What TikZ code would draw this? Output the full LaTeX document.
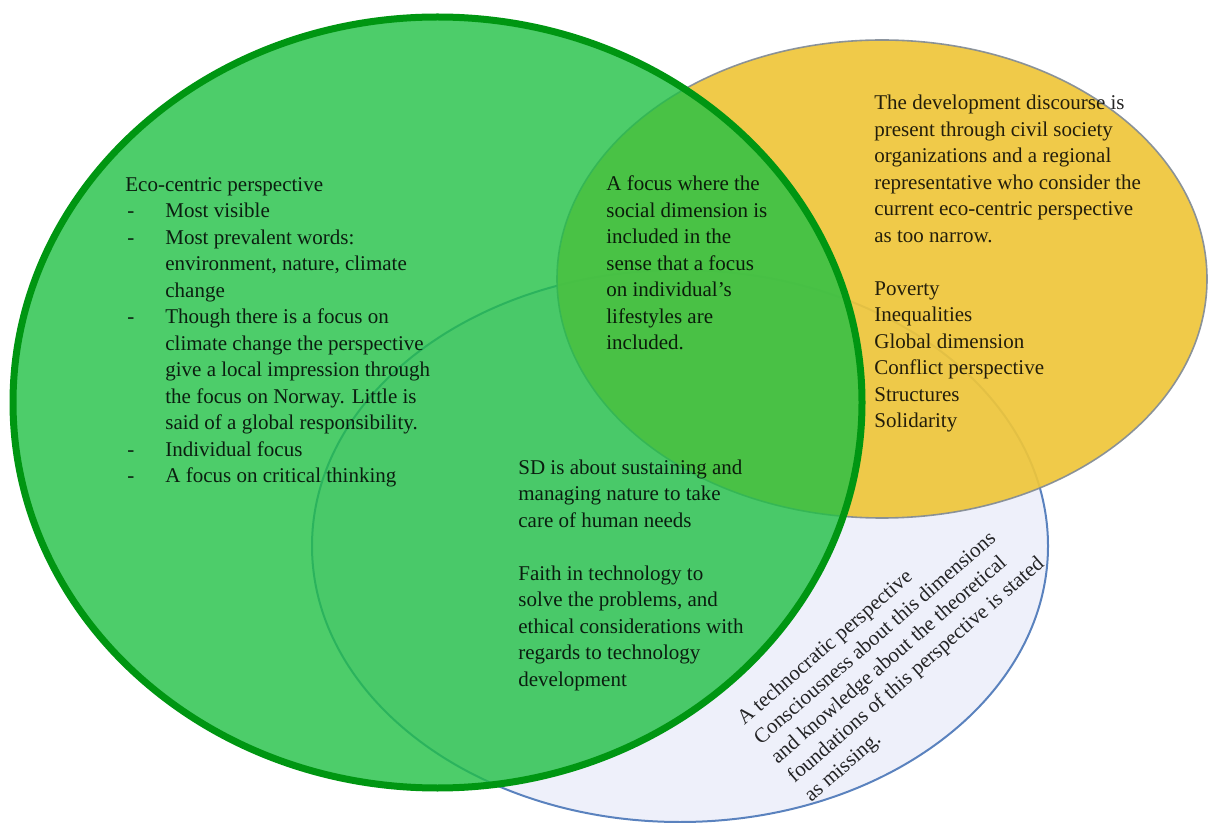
\documentclass[tikz,border=0pt]{standalone}
\usepackage{fontspec}
\setmainfont{Liberation Serif}
\definecolor{ecogreen}{RGB}{32,192,69}
\definecolor{ecoborder}{RGB}{0,150,18}
\definecolor{devyellow}{RGB}{239,198,58}
\definecolor{devborder}{RGB}{128,138,150}
\definecolor{techfill}{RGB}{238,240,250}
\definecolor{techborder}{RGB}{90,130,190}
\newcommand\listdash{\makebox[20pt][l]{\hspace{1pt}-}}
\newcommand\listindent{\hspace*{20pt}}
\begin{document}
\begin{tikzpicture}[x=0.5pt,y=-0.5pt,
  blocktext/.style={align=left, anchor=base west, inner sep=0pt,
    font=\fontsize{10.5}{13.25}\selectfont, text opacity=0.85}]
\useasboundingbox (0,0) rectangle (1210,823);
% technocratic perspective (bottom)
\draw[fill=techfill, draw=techborder, line width=1pt] (680,546) ellipse [x radius=368, y radius=276];
% development discourse (right)
\draw[fill=devyellow, fill opacity=0.92, draw=devborder, draw opacity=0.9, line width=0.8pt] (882,279) ellipse [x radius=325, y radius=239];
% eco-centric perspective (left, on top)
\fill[ecogreen, fill opacity=0.8] (437.5,402.5) ellipse [x radius=424.5, y radius=385.5];
\draw[ecoborder, line width=3.5pt] (437.5,402.5) ellipse [x radius=424.5, y radius=385.5];

% multi-line blocks are placed by the baseline of their last line
\node[blocktext] (eco) at (125,482.5) {Eco-centric perspective\\
\listdash Most visible\\
\listdash Most prevalent words:\\
\listindent environment, nature, climate\\
\listindent change\\
\listdash Though there is a focus on\\
\listindent climate change the perspective\\
\listindent give a local impression through\\
\listindent the focus on Norway. Little is\\
\listindent said of a global responsibility.\\
\listdash Individual focus\\
\listdash A focus on critical thinking};

\node[blocktext] (social) at (606,350) {A focus where the\\
social dimension is\\
included in the\\
sense that a focus\\
on individual's\\
lifestyles are\\
included.};

\node[blocktext] (dev) at (874,428) {The development discourse is\\
present through civil society\\
organizations and a regional\\
representative who consider the\\
current eco-centric perspective\\
as too narrow.\\[13.25pt]
Poverty\\
Inequalities\\
Global dimension\\
Conflict perspective\\
Structures\\
Solidarity};

\node[blocktext] (sd) at (518,686) {SD is about sustaining and\\
managing nature to take\\
care of human needs\\[13.25pt]
Faith in technology to\\
solve the problems, and\\
ethical considerations with\\
regards to technology\\
development};

\node[blocktext, rotate=41, font=\fontsize{10.5}{12.75}\selectfont] (tech) at (811,803) {A technocratic perspective\\
Consciousness about this dimensions\\
and knowledge about the theoretical\\
foundations of this perspective is stated\\
as missing.};
\end{tikzpicture}
\end{document}
